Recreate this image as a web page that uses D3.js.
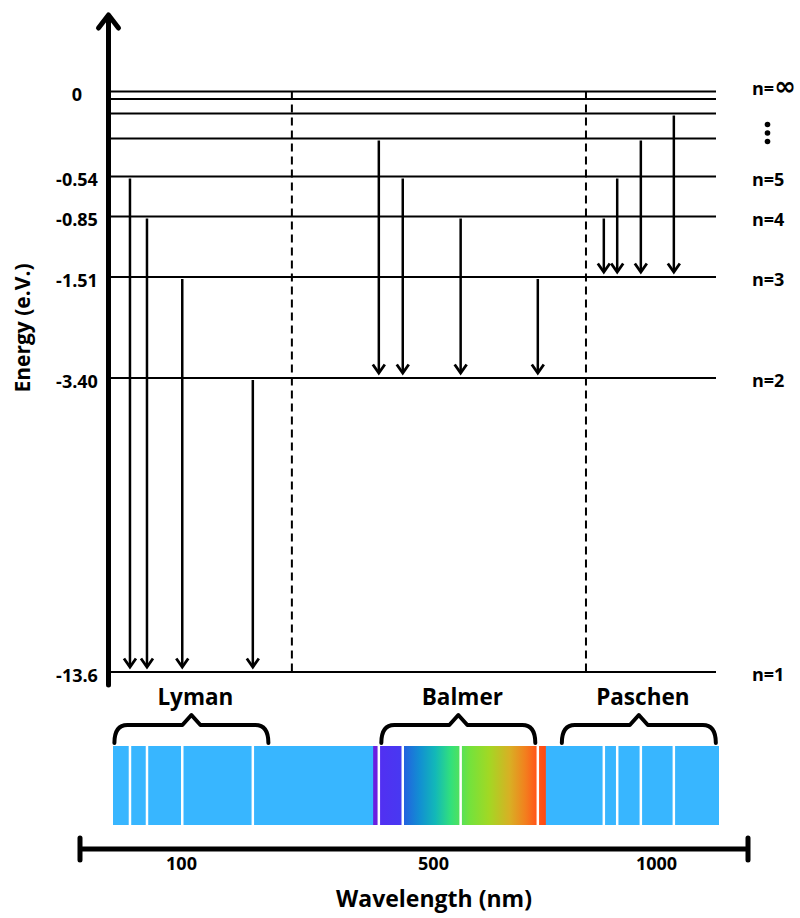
<!DOCTYPE html>
<html>
<head>
<meta charset="utf-8">
<script src="https://cdn.jsdelivr.net/npm/d3@7"></script>
<style>
  body { margin: 0; background: #fff; }
  svg { display: block; font-family: "Open Sans", sans-serif; font-weight: 700; }
</style>
</head>
<body>
<svg id="chart" xmlns="http://www.w3.org/2000/svg"></svg>
<script>
// energy levels of hydrogen (n, eV)
const levelN = [1, 2, 3, 4, 5, 6, 7, 8, Infinity];
const levelEnergy = [-13.6, -3.4, -1.51, -0.85, -0.54, -0.38, -0.28, -0.21, 0];
const labeledN = [1, 2, 3, 4, 5, Infinity];
const energyTicks = [0, -0.54, -0.85, -1.51, -3.4, -13.6];
const energyTickLabels = ["0", "-0.54", "-0.85", "-1.51", "-3.40", "-13.6"];

// series: lower level, upper levels, line wavelength (nm, as drawn)
const seriesNames = ["Lyman", "Balmer", "Paschen"];
const seriesLower = [1, 2, 3];
const lymanUpper = [5, 4, 3, 2];
const lymanWavelength = [19, 46, 102, 214];
const balmerUpper = [6, 5, 4, 3];
const balmerWavelength = [414, 452, 562, 735];
const paschenUpper = [4, 5, 6, 7];
const paschenWavelength = [883, 913, 966, 1040];
const seriesBoundaries = [276, 843];
const visibleRange = [405, 753];

const wavelengthTicks = [100, 500, 1000];
const wavelengthTickLabels = ["100", "500", "1000"];

const seriesUpper = [lymanUpper, balmerUpper, paschenUpper];
const seriesWavelength = [lymanWavelength, balmerWavelength, paschenWavelength];

const width = 800;
const height = 918;
const levelX0 = 111;
const levelX1 = 716;

const energyOf = n => levelEnergy[levelN.indexOf(n)];

const yScale = d3
  .scaleLinear()
  .domain(levelEnergy)
  .range([672, 378, 277, 216.5, 176.5, 138.5, 113.5, 99, 91.5]);

const xScale = d3
  .scaleLinear()
  .domain(wavelengthTicks)
  .range([181, 433, 656]);

const svg = d3
  .select("#chart")
  .attr("width", width)
  .attr("height", height);

const defs = svg.append("defs");
const grad = defs
  .append("linearGradient")
  .attr("id", "visible")
  .attr("x1", "0%")
  .attr("x2", "100%");
[
  [0, "#6a1fe0"], [0.025, "#6a1fe0"], [0.035, "#5230f2"], [0.16, "#4838f2"],
  [0.175, "#2360e0"], [0.27, "#128fd2"], [0.36, "#12b8b8"], [0.45, "#32e07c"],
  [0.56, "#74e23c"], [0.67, "#a2d824"], [0.79, "#d8b024"], [0.88, "#f2801e"],
  [0.94, "#ff5a1a"], [1, "#ff4a10"]
].forEach(([o, c]) => grad.append("stop").attr("offset", o).attr("stop-color", c));

// energy levels
svg
  .append("g")
  .selectAll("line")
  .data(levelEnergy)
  .enter()
  .append("line")
  .attr("x1", levelX0)
  .attr("x2", levelX1)
  .attr("y1", d => yScale(d))
  .attr("y2", d => yScale(d))
  .attr("stroke", "#000")
  .attr("stroke-width", 2);

// series boundaries
svg
  .append("g")
  .selectAll("line")
  .data(seriesBoundaries)
  .enter()
  .append("line")
  .attr("x1", d => xScale(d))
  .attr("x2", d => xScale(d))
  .attr("y1", yScale(0))
  .attr("y2", yScale(-13.6))
  .attr("stroke", "#000")
  .attr("stroke-width", 2)
  .attr("stroke-dasharray", "8,5");

// y axis
const yAxis = svg
  .append("g")
  .attr("transform", "translate(108,0)")
  .call(
    d3
      .axisLeft(yScale)
      .tickValues(energyTicks)
      .tickSize(0)
      .tickFormat((d, i) => energyTickLabels[i])
  );
yAxis.select(".domain").remove();
yAxis
  .selectAll("text")
  .attr("x", -31)
  .attr("dy", "0.5em")
  .attr("text-anchor", "middle")
  .attr("fill", "#000")
  .style("font-family", "'Open Sans', sans-serif")
  .style("font-weight", 700)
  .style("font-size", "18px");

svg
  .append("line")
  .attr("x1", 108.5)
  .attr("x2", 108.5)
  .attr("y1", 16)
  .attr("y2", 685)
  .attr("stroke", "#000")
  .attr("stroke-width", 5)
  .attr("stroke-linecap", "round");
svg
  .append("path")
  .attr("d", "M98.5,28L108.5,15L118.5,28")
  .attr("fill", "none")
  .attr("stroke", "#000")
  .attr("stroke-width", 5)
  .attr("stroke-linecap", "round")
  .attr("stroke-linejoin", "round");

svg
  .append("text")
  .attr("transform", "translate(30,328) rotate(-90)")
  .attr("text-anchor", "middle")
  .style("font-size", "21px")
  .text("Energy (e.V.)");

// level names
const names = svg
  .append("g")
  .selectAll("text")
  .data(labeledN)
  .enter()
  .append("text")
  .attr("x", 752)
  .attr("y", d => yScale(energyOf(d)) + (d === Infinity ? 3 : 9))
  .style("font-size", "18px")
  .text(d => (d === Infinity ? "n=" : "n=" + d));
names
  .filter(d => d === Infinity)
  .append("tspan")
  .style("font-family", "'DejaVu Sans', sans-serif")
  .style("font-weight", 700)
  .style("font-size", "26px")
  .text("∞");

svg
  .append("g")
  .selectAll("circle")
  .data([0, 1, 2])
  .enter()
  .append("circle")
  .attr("cx", 767.5)
  .attr("cy", d => 124.5 + d * 8.5)
  .attr("r", 2.8)
  .attr("fill", "#000");

// transitions
seriesNames.forEach((name, s) => {
  const lower = energyOf(seriesLower[s]);
  const g = svg.append("g").attr("class", "series " + name);
  const items = seriesUpper[s].map((n, i) => ({
    upper: energyOf(n),
    lower,
    wl: seriesWavelength[s][i]
  }));
  g.selectAll(".tr")
    .data(items)
    .enter()
    .append("line")
    .attr("class", "tr")
    .attr("x1", d => xScale(d.wl))
    .attr("x2", d => xScale(d.wl))
    .attr("y1", d => yScale(d.upper) + 2)
    .attr("y2", d => yScale(d.lower) - 5)
    .attr("stroke", "#000")
    .attr("stroke-width", 2.5);
  g.selectAll(".head")
    .data(items)
    .enter()
    .append("path")
    .attr("class", "head")
    .attr("d", d => {
      const x = xScale(d.wl);
      const y = yScale(d.lower) - 5;
      return `M${x - 6},${y - 8.5}L${x},${y}L${x + 6},${y - 8.5}`;
    })
    .attr("fill", "none")
    .attr("stroke", "#000")
    .attr("stroke-width", 2.8);
});

// spectrum bar
const barTop = 746;
const barBottom = 825;
svg
  .append("rect")
  .attr("x", 113)
  .attr("y", barTop)
  .attr("width", 719 - 113)
  .attr("height", barBottom - barTop)
  .attr("fill", "#38b6ff");
svg
  .append("rect")
  .attr("x", xScale(visibleRange[0]))
  .attr("y", barTop)
  .attr("width", xScale(visibleRange[1]) - xScale(visibleRange[0]))
  .attr("height", barBottom - barTop)
  .attr("fill", "url(#visible)");
svg
  .append("g")
  .selectAll("line")
  .data(d3.merge(seriesWavelength))
  .enter()
  .append("line")
  .attr("x1", d => xScale(d))
  .attr("x2", d => xScale(d))
  .attr("y1", barTop)
  .attr("y2", barBottom)
  .attr("stroke", "#fff")
  .attr("stroke-width", 2.5);

// braces and series names
seriesNames.forEach((name, s) => {
  const ext = d3.extent(seriesWavelength[s].map(xScale));
  const m = (ext[0] + ext[1]) / 2;
  const x0 = m - 77;
  const x1 = m + 77;
  const yb = 725;
  svg
    .append("path")
    .attr(
      "d",
      `M${x0},${yb + 18}Q${x0},${yb} ${x0 + 13},${yb}L${m - 9},${yb}L${m},${yb - 10}L${m + 9},${yb}L${x1 - 13},${yb}Q${x1},${yb} ${x1},${yb + 18}`
    )
    .attr("fill", "none")
    .attr("stroke", "#000")
    .attr("stroke-width", 4)
    .attr("stroke-linejoin", "round")
    .attr("stroke-linecap", "round");
  svg
    .append("text")
    .attr("x", m + 4)
    .attr("y", 705)
    .attr("text-anchor", "middle")
    .style("font-size", "22.5px")
    .text(name);
});

// wavelength axis
svg
  .append("path")
  .attr("d", "M80,838V860M80,849H748M748,838V860")
  .attr("fill", "none")
  .attr("stroke", "#000")
  .attr("stroke-width", 5)
  .attr("stroke-linecap", "round");

const xAxis = svg
  .append("g")
  .attr("transform", "translate(0,849)")
  .call(
    d3
      .axisBottom(xScale)
      .tickValues(wavelengthTicks)
      .tickSize(0)
      .tickFormat((d, i) => wavelengthTickLabels[i])
  );
xAxis.select(".domain").remove();
xAxis
  .selectAll("text")
  .attr("y", 8)
  .attr("dy", "0.71em")
  .attr("fill", "#000")
  .style("font-family", "'Open Sans', sans-serif")
  .style("font-weight", 700)
  .style("font-size", "18px");

svg
  .append("text")
  .attr("x", 434)
  .attr("y", 907)
  .attr("text-anchor", "middle")
  .style("font-size", "23px")
  .text("Wavelength (nm)");
</script>
</body>
</html>
